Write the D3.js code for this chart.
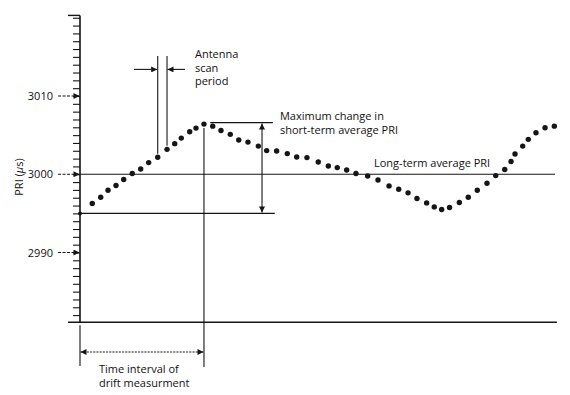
<!DOCTYPE html>
<html>
<head>
<meta charset="utf-8">
<script src="https://cdn.jsdelivr.net/npm/d3@7"></script>
<style>
  body { margin: 0; background: #fff; }
  text { font-family: "Open Sans", sans-serif; font-size: 11px; fill: #111; }
</style>
</head>
<body>
<div id="chart"></div>
<script>
// PRI drift readings (time in scan periods, PRI in microseconds)
const timeVals = [1.29, 2.18, 2.95, 3.79, 4.6, 5.5, 6.39, 7.23, 8.18, 9.16,
  9.97, 10.66, 11.55, 12.21, 13.05, 13.97, 14.84, 15.82, 16.71, 17.68,
  18.77, 19.65, 20.7, 21.82, 22.81, 23.89, 25.08, 26.14, 27.08, 28.07,
  29.05, 30.28, 31.37, 32.53, 33.55, 34.53, 35.47, 36.49, 37.29, 38.07,
  38.9, 39.93, 40.87, 41.82, 42.84, 43.76, 44.71, 45.37, 45.79, 46.6,
  47.19, 48.0, 48.95, 49.93];
const priVals = [2996.27, 2997.07, 2997.96, 2998.56, 2999.32, 3000.09, 3000.68, 3001.49, 3002.17, 3003.18,
  3003.91, 3004.62, 3005.44, 3005.9, 3006.41, 3006.15, 3005.6, 3005.1, 3004.37, 3004.11,
  3003.6, 3003.02, 3002.97, 3002.64, 3002.2, 3002.13, 3001.57, 3001.06, 3000.85, 3000.55,
  3000.09, 2999.78, 2999.27, 2998.51, 2998.09, 2997.62, 2996.9, 2996.34, 2995.83, 2995.5,
  2995.76, 2996.39, 2997.07, 2997.96, 2998.85, 2999.83, 3000.6, 3001.62, 3002.59, 3003.6,
  3004.46, 3005.31, 3005.95, 3006.15];
const majorTicks = [3010, 3000, 2990];
const longTermAvg = 3000;
const shortTermLow = 2995;
const shortTermHigh = 3006.6;
const scanIdx = [8, 9];
const peakIdx = 14;

const width = 570, height = 395;
const x = d3.scaleLinear().domain([0, 50]).range([80, 555]);
const y = d3.scaleLinear().domain([2990, 3010]).range([252.5, 96]);
const yTop = 3020.3, yBottom = 2981.1;
const ink = '#151515';

const svg = d3.select('#chart').append('svg')
  .attr('width', width).attr('height', height);

const defs = svg.append('defs');
defs.append('marker')
  .attr('id', 'arrow')
  .attr('viewBox', '0 0 10 10')
  .attr('refX', 10).attr('refY', 5)
  .attr('markerWidth', 8).attr('markerHeight', 6)
  .attr('markerUnits', 'userSpaceOnUse')
  .attr('orient', 'auto-start-reverse')
  .append('path').attr('d', 'M0,0L10,5L0,10z').attr('fill', ink);

function line(x1, y1, x2, y2, w) {
  return svg.append('line')
    .attr('x1', x1).attr('y1', y1).attr('x2', x2).attr('y2', y2)
    .attr('stroke', ink).attr('stroke-width', w || 1.1);
}

// y axis with minor ticks
const axis = d3.axisLeft(y)
  .tickValues(d3.range(2982, 3021))
  .tickSize(7)
  .tickFormat('');
svg.append('g')
  .attr('transform', `translate(${x(0)},0)`)
  .call(axis)
  .call(g => g.select('.domain').remove())
  .call(g => g.selectAll('.tick line').attr('stroke', ink).attr('stroke-width', 1.1));

line(x(0), y(yTop), x(0), y(yBottom), 1.6);
line(x(0) - 12, y(yTop), x(0), y(yTop), 1.4);
line(x(-1.26), y(yBottom), x(50.2), y(yBottom), 1.5);

// major tick labels with dashed arrows
majorTicks.forEach(v => {
  svg.append('text')
    .attr('x', 53).attr('y', y(v) + 4)
    .attr('text-anchor', 'end')
    .text(v);
  line(58, y(v), x(0) - 0.5, y(v), 1.1)
    .attr('stroke-dasharray', '3,1.5')
    .attr('marker-end', 'url(#arrow)');
});

svg.append('text')
  .attr('transform', `translate(23,177) rotate(-90)`)
  .attr('text-anchor', 'middle')
  .html('PRI (<tspan font-style="italic">μ</tspan>s)');

// long-term average
line(x(0), y(longTermAvg), x(50), y(longTermAvg), 1.1);
svg.append('text').attr('x', x(30.95)).attr('y', 167).text('Long-term average PRI');

// short-term change annotation
line(x(0), y(shortTermLow), x(20.5), y(shortTermLow), 1.1);
svg.append('circle').attr('cx', x(0)).attr('cy', y(shortTermLow)).attr('r', 2).attr('fill', ink);
line(x(13.7), y(shortTermHigh), x(20.3), y(shortTermHigh), 1.1);
line(x(19.16), y(shortTermHigh) + 1, x(19.16), y(shortTermLow) - 1, 1.1)
  .attr('marker-start', 'url(#arrow)')
  .attr('marker-end', 'url(#arrow)');
svg.append('text').attr('x', x(21.05)).attr('y', 120).text('Maximum change in');
svg.append('text').attr('x', x(21.05)).attr('y', 133.5).text('short-term average PRI');

// antenna scan period
scanIdx.forEach(i => {
  line(x(timeVals[i]), y(3015.1), x(timeVals[i]), y(priVals[i]) - 3.5, 1.1);
});
line(x(5.68), y(3013.4), x(timeVals[scanIdx[0]]) - 0.5, y(3013.4), 1.1)
  .attr('marker-end', 'url(#arrow)');
line(x(11.05), y(3013.4), x(timeVals[scanIdx[1]]) + 0.5, y(3013.4), 1.1)
  .attr('marker-end', 'url(#arrow)');
['Antenna', 'scan', 'period'].forEach((t, i) => {
  svg.append('text').attr('x', x(12.1)).attr('y', 58 + i * 13.5).text(t);
});

// time interval of drift measurement
const peakX = x(timeVals[peakIdx]);
line(peakX, y(priVals[peakIdx]) + 4, peakX, 367, 1.1);
line(x(0), y(yBottom) + 3, x(0), 366, 1.1);
line(x(0) + 0.5, 352, peakX - 0.5, 352, 1.1)
  .attr('stroke-dasharray', '2,1.2')
  .attr('marker-start', 'url(#arrow)')
  .attr('marker-end', 'url(#arrow)');
svg.append('text').attr('x', x(2)).attr('y', 372.5).text('Time interval of');
svg.append('text').attr('x', x(2)).attr('y', 386.5).text('drift measurment');

// PRI samples
svg.append('g').selectAll('circle')
  .data(timeVals.map((t, i) => ({ t, v: priVals[i] })))
  .enter()
  .append('circle')
  .attr('cx', d => x(d.t))
  .attr('cy', d => y(d.v))
  .attr('r', 2.7)
  .attr('fill', ink);
</script>
</body>
</html>
